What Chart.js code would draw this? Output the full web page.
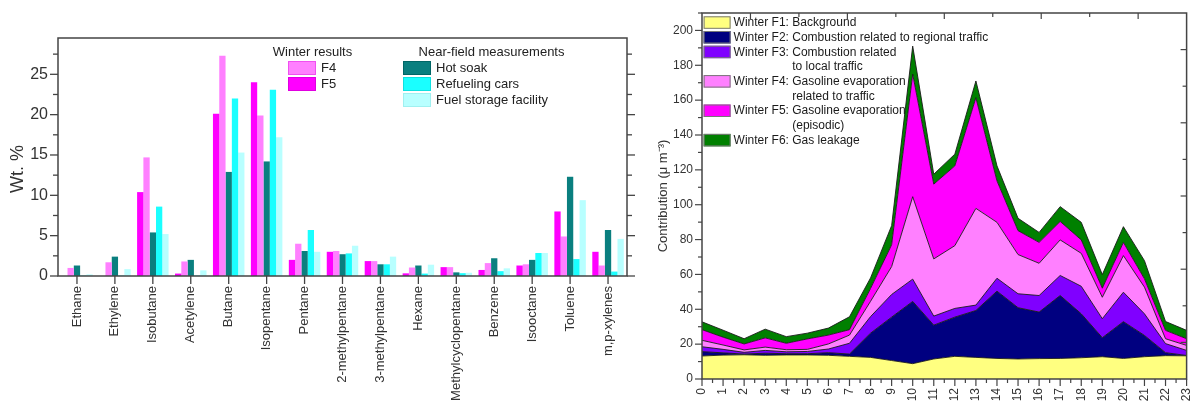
<!DOCTYPE html>
<html><head><meta charset="utf-8">
<script src="https://cdn.jsdelivr.net/npm/chart.js@4/dist/chart.umd.min.js"></script>
<style>
html,body{margin:0;padding:0;background:#fff;overflow:hidden;width:1203px;height:409px;}
#l{position:absolute;left:0;top:0;width:640px;height:409px;}
#r{position:absolute;left:640px;top:0;width:563px;height:423px;}
</style></head><body>
<div id="l"><canvas id="c1"></canvas></div>
<div id="r"><canvas id="c2"></canvas></div>
<script>
const FONT = '"Liberation Sans", Arial, sans-serif';
Chart.defaults.font.family = FONT;

// ---------- Left panel data (Wt. %) ----------
const compounds = ['Ethane','Ethylene','Isobutane','Acetylene','Butane','Isopentane','Pentane',
  '2-methylpentane','3-methylpentane','Hexane','Methylcyclopentane','Benzene','Isooctane','Toluene','m,p-xylenes'];
const winterF5   = [0.0, 0.0, 10.4, 0.3, 20.1, 24.0, 2.0, 3.0, 1.85, 0.33, 1.1, 0.75, 1.3, 8.0, 3.0];
const winterF4   = [1.0, 1.7, 14.7, 1.8, 27.3, 19.9, 4.0, 3.1, 1.85, 1.05, 1.1, 1.6, 1.45, 4.9, 1.3];
const hotSoak    = [1.3, 2.4, 5.4, 2.0, 12.9, 14.2, 3.1, 2.7, 1.45, 1.3, 0.45, 2.2, 2.0, 12.3, 5.7];
const refueling  = [0.05, 0.05, 8.6, 0.05, 22.0, 23.1, 5.7, 2.8, 1.45, 0.3, 0.35, 0.6, 2.85, 2.1, 0.55];
const fuelStorage= [0.2, 0.85, 5.2, 0.7, 15.3, 17.2, 3.0, 3.75, 2.4, 1.4, 0.4, 0.95, 2.85, 9.4, 4.6];

// ---------- Right panel data (contribution per hour) ----------
const hours = [0,1,2,3,4,5,6,7,8,9,10,11,12,13,14,15,16,17,18,19,20,21,22,23];
const f1Background = [13.2,13.7,13.9,13.6,13.8,13.8,13.6,13.0,12.4,10.6,8.8,11.5,13.0,12.4,11.8,11.5,11.7,11.8,12.2,12.8,11.8,12.8,13.4,13.3];
const f2Regional   = [2.5,1.3,0.4,1.2,0.7,0.7,1.5,1.3,13.9,24.9,35.7,19.4,22.5,26.9,38.6,29.4,26.7,36.1,25.2,10.9,21.1,12.2,1.7,0.2];
const f3Local      = [2.8,2.0,1.0,1.6,1.1,1.3,2.1,6.2,9.5,13.0,12.8,5.2,5.0,3.1,7.4,8.0,9.5,11.5,15.8,10.9,16.9,12.4,5.2,2.9];
const f4Evap       = [3.7,2.5,1.4,1.9,1.2,1.2,2.9,4.7,8.8,16.0,47.3,32.8,36.0,55.5,32.1,22.5,18.5,20.4,18.9,12.3,21.0,15.3,2.8,2.9];
const f5Episodic   = [6.1,4.5,3.4,5.3,3.7,6.0,5.1,3.1,7.4,12.5,70.4,42.9,45.8,63.5,23.8,13.7,12.0,10.6,7.7,5.2,7.6,4.8,4.8,3.8];
const f6Gas        = [4.5,4.0,3.0,5.0,3.8,3.3,4.0,7.4,6.0,11.0,16.0,5.7,6.7,9.6,8.6,7.1,5.7,8.5,10.1,7.8,9.0,10.4,5.1,4.8];
const factorLabels = [
  ['Winter F1: Background'],
  ['Winter F2: Combustion related to regional traffic'],
  ['Winter F3: Combustion related','to local traffic'],
  ['Winter F4: Gasoline evaporation','related to traffic'],
  ['Winter F5: Gasoline evaporation','(episodic)'],
  ['Winter F6: Gas leakage']
];

function line(ctx,x1,y1,x2,y2){ctx.beginPath();ctx.moveTo(x1,y1);ctx.lineTo(x2,y2);ctx.stroke();}

// ---------- Left decorations: frame, ticks, title, legend ----------
const leftDecor = {
  id:'leftDecor',
  afterDraw(chart){
    const {ctx, chartArea:a, scales:{x,y}} = chart;
    ctx.save();
    ctx.strokeStyle='#444'; ctx.lineWidth=1.5;
    ctx.strokeRect(a.left, a.top, a.right-a.left, a.bottom-a.top);
    ctx.lineWidth=1.3;
    for(let v=0; v<=y.max+1e-6; v+=2.5){
      const py=y.getPixelForValue(v); const len=(Math.abs(v%5)<1e-6)?8:5;
      line(ctx,a.left-len,py,a.left,py); line(ctx,a.right,py,a.right+len,py);
    }
    for(let i=0;i<compounds.length;i++){const px=x.getPixelForValue(i); line(ctx,px,a.bottom,px,a.bottom+8);}
    // y title
    ctx.save(); ctx.translate(18.5,169); ctx.rotate(-Math.PI/2);
    ctx.font='18px '+FONT; ctx.fillStyle='#333'; ctx.textAlign='center'; ctx.textBaseline='middle';
    ctx.fillText('Wt. %',0,0); ctx.restore();
    // legend
    const ds = chart.data.datasets;
    ctx.font='13px '+FONT; ctx.fillStyle='#222'; ctx.textBaseline='middle';
    ctx.textAlign='center';
    ctx.fillText('Winter results',312.5,52);
    ctx.fillText('Near-field measurements',491.5,52);
    ctx.textAlign='left';
    const items=[[1,288,61],[0,288,77],[2,403,61],[3,403,77],[4,403,93]];
    items.forEach(([i,sx,sy])=>{
      ctx.fillStyle=ds[i].backgroundColor; ctx.fillRect(sx,sy,28,14);
      ctx.strokeStyle=ds[i].legendBorder; ctx.lineWidth=1; ctx.strokeRect(sx+0.5,sy+0.5,27,13);
      ctx.fillStyle='#222'; ctx.fillText(ds[i].label, sx+33, sy+7.5);
    });
    ctx.restore();
  }
};

new Chart(document.getElementById('c1'), {
  type:'bar',
  data:{
    labels: compounds,
    datasets:[
      {label:'F5', data:winterF5, backgroundColor:'#FF00FF', legendBorder:'#E000E0'},
      {label:'F4', data:winterF4, backgroundColor:'#FF80FF', legendBorder:'#F050F0'},
      {label:'Hot soak', data:hotSoak, backgroundColor:'#0A7F7F', legendBorder:'#066'},
      {label:'Refueling cars', data:refueling, backgroundColor:'#1AFFFF', legendBorder:'#10E0E0'},
      {label:'Fuel storage facility', data:fuelStorage, backgroundColor:'#B8FFFF', legendBorder:'#A0F0F0'}
    ]
  },
  options:{
    responsive:true, maintainAspectRatio:false, animation:false,
    layout:{padding:{top:38,left:0,right:0,bottom:0}},
    datasets:{bar:{categoryPercentage:0.83, barPercentage:1.0, borderWidth:0}},
    plugins:{legend:{display:false}, tooltip:{enabled:false}},
    scales:{
      x:{grid:{display:false, drawTicks:true, tickLength:8}, border:{display:false},
         ticks:{autoSkip:false, maxRotation:90, minRotation:90, font:{size:13}, color:'#333', padding:2},
         afterFit:s=>{s.height=133;}},
      y:{min:0, max:29.5, grid:{display:false, drawTicks:true, tickLength:8}, border:{display:false},
         ticks:{stepSize:5, includeBounds:false, font:{size:16}, color:'#333', padding:2},
         afterFit:s=>{s.width=58;}},
      yR:{position:'right', min:0, max:29.5, grid:{display:false}, border:{display:false},
         ticks:{display:false}, afterFit:s=>{s.width=13;}}
    }
  },
  plugins:[leftDecor]
});

// ---------- Right decorations ----------
const rightDecor = {
  id:'rightDecor',
  afterDraw(chart){
    const {ctx, chartArea:a, scales:{x,y}} = chart;
    ctx.save();
    ctx.strokeStyle='#444'; ctx.lineWidth=1.5;
    ctx.strokeRect(a.left, a.top, a.right-a.left, a.bottom-a.top);
    ctx.lineWidth=1.2;
    for(let v=0; v<=y.max; v+=10){
      const py=y.getPixelForValue(v); const len=(v%20===0)?7:4;
      line(ctx,a.left-len,py,a.left,py);
    }
    for(let h=0; h<=23; h+=0.5){
      const px=x.getPixelForValue(h); const len=(h%1===0)?7:4;
      line(ctx,px,a.bottom,px,a.bottom+len);
    }
    for(let i=1;i<10;i++){
      const px=a.left+(a.right-a.left)*i/10; line(ctx,px,a.top,px,a.top+(i%2?6:4));
      const py=a.bottom-(a.bottom-a.top)*i/10; line(ctx,a.right-(i%2?6:4),py,a.right,py);
    }
    // y title
    ctx.save(); ctx.translate(23,196); ctx.rotate(-Math.PI/2);
    ctx.font='13px '+FONT; ctx.fillStyle='#333'; ctx.textAlign='center'; ctx.textBaseline='middle';
    ctx.fillText('Contribution (\u03bc m\u207B\u00B3)',0,0); ctx.restore();
    // legend
    const ds=chart.data.datasets;
    ctx.font='12px '+FONT; ctx.textBaseline='middle'; ctx.textAlign='left';
    const lh=14.7; let yy=a.top+3.3;
    const sx=a.left+1.6, tx=a.left+31.6;
    ds.forEach((d)=>{
      ctx.fillStyle=d.backgroundColor; ctx.fillRect(sx,yy,27,12.5);
      ctx.strokeStyle='#777'; ctx.lineWidth=1; ctx.strokeRect(sx+0.5,yy+0.5,26,11.5);
      ctx.fillStyle='#1a1a1a';
      const lines=d.label;
      const prefix=lines[0].slice(0, lines[0].indexOf(':')+2);
      const ind=ctx.measureText(prefix).width;
      lines.forEach((t,k)=>{ ctx.fillText(t, tx+(k?ind:0), yy+6.5+k*lh); });
      yy+=lh*lines.length;
    });
    ctx.restore();
  }
};

const areaColors=['#FFFF80','#000080','#8000FF','#FF80FF','#FF00FF','#008000'];
const factorValues=[f1Background,f2Regional,f3Local,f4Evap,f5Episodic,f6Gas];

new Chart(document.getElementById('c2'), {
  type:'line',
  data:{
    datasets: factorValues.map((vals,i)=>({
      label: factorLabels[i],
      data: hours.map((h,j)=>({x:h, y:vals[j]})),
      backgroundColor: areaColors[i],
      borderColor:'#1a1a1a', borderWidth:0.9,
      pointRadius:0, tension:0,
      fill: i===0 ? 'origin' : '-1'
    }))
  },
  options:{
    responsive:true, maintainAspectRatio:false, animation:false,
    layout:{padding:{top:13,left:0,right:3,bottom:0}},
    plugins:{legend:{display:false}, tooltip:{enabled:false}},
    scales:{
      x:{type:'linear', min:0, max:23, grid:{display:false, drawTicks:true, tickLength:7}, border:{display:false},
         ticks:{stepSize:1, autoSkip:false, maxRotation:90, minRotation:90, font:{size:12}, color:'#333', padding:2},
         title:{display:true, text:'Local time (h)', font:{size:13}, color:'#333', padding:0},
         afterFit:s=>{s.height=44;}},
      y:{stacked:true, min:0, max:210, grid:{display:false, drawTicks:true, tickLength:7}, border:{display:false},
         ticks:{stepSize:20, includeBounds:false, font:{size:12}, color:'#333', padding:2},
         afterFit:s=>{s.width=62;}}
    }
  },
  plugins:[rightDecor]
});
</script>
</body></html>
